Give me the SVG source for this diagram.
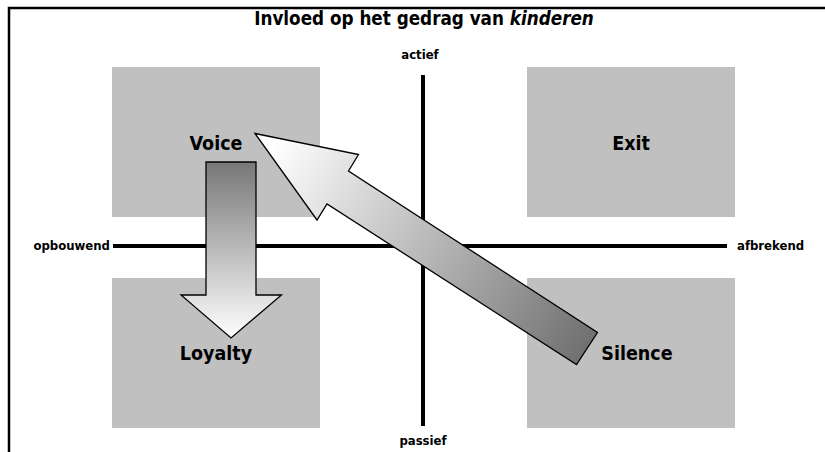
<svg xmlns="http://www.w3.org/2000/svg" width="825" height="452" viewBox="0 0 825 452">
<style>
.box{fill:#c0c0c0}
.ax{stroke:#000;stroke-width:4;fill:none}
.lbl{font-family:"DejaVu Sans",sans-serif;font-stretch:condensed;font-weight:bold;font-size:19.5px;fill:#000;text-anchor:middle}
.ttl{font-family:"DejaVu Sans",sans-serif;font-stretch:condensed;font-weight:bold;font-size:18.7px;fill:#000;text-anchor:middle}
.axl{font-family:"DejaVu Sans",sans-serif;font-stretch:condensed;font-weight:bold;font-size:13px;fill:#000}
.arr{stroke:#000;stroke-width:1.3;stroke-linejoin:miter}
</style>
<defs>
<linearGradient id="gDown" x1="0" y1="0" x2="0" y2="1">
<stop offset="0" stop-color="#777"/>
<stop offset="1" stop-color="#fff"/>
</linearGradient>
<linearGradient id="gDiag" gradientUnits="userSpaceOnUse" x1="587" y1="348" x2="270" y2="150">
<stop offset="0" stop-color="#707070"/>
<stop offset="1" stop-color="#fff"/>
</linearGradient>
</defs>
<g id="frame">
<path d="M9,452 V8 H825" stroke="#000" stroke-width="2.5" fill="none"/>
</g>
<text class="ttl" x="424" y="25">Invloed op het gedrag van <tspan font-style="italic">kinderen</tspan></text>
<g id="axes">
<line class="ax" x1="423" y1="75" x2="423" y2="426"/>
<line class="ax" x1="113" y1="246" x2="727" y2="246"/>
<text class="axl" x="420" y="59" text-anchor="middle">actief</text>
<text class="axl" x="423" y="445" text-anchor="middle">passief</text>
<text class="axl" x="110" y="250" text-anchor="end">opbouwend</text>
<text class="axl" x="737" y="250">afbrekend</text>
</g>
<g id="voice"><rect class="box" x="112" y="67" width="208" height="150"/><text class="lbl" x="216" y="150">Voice</text></g>
<g id="exit"><rect class="box" x="527" y="67" width="208" height="150"/><text class="lbl" x="631" y="150">Exit</text></g>
<g id="loyalty"><rect class="box" x="112" y="278" width="208" height="150"/><text class="lbl" x="216" y="360">Loyalty</text></g>
<g id="silence"><rect class="box" x="527" y="278" width="208" height="150"/><text class="lbl" x="637" y="360">Silence</text></g>
<g id="connectors">
<path class="arr" fill="url(#gDown)" d="M206,162 H256 V295 H281.5 L231,338 L181,295 H206 Z"/>
<path class="arr" fill="url(#gDiag)" d="M255,133.5 L358.5,154.5 L348.5,171 L597.5,332.5 L576.5,364.5 L327,204 L317,220 Z"/>
</g>
</svg>
